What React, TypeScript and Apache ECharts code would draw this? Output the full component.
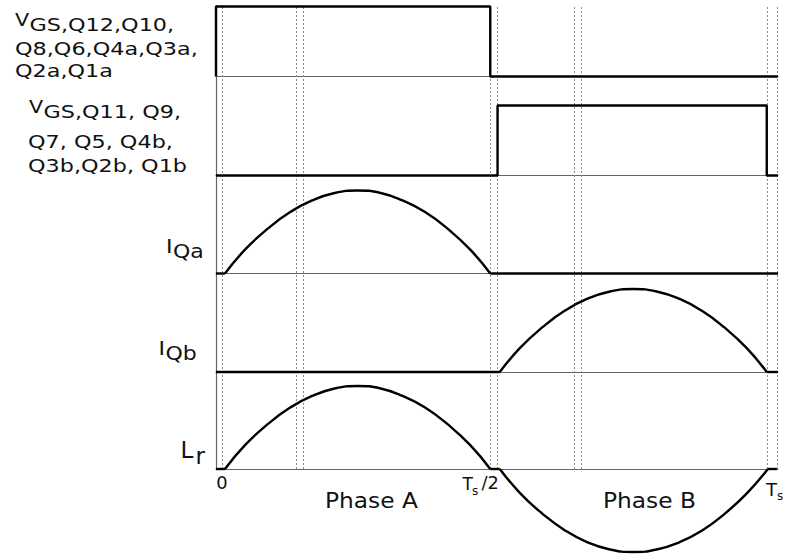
import React, { useEffect, useRef } from "react";
import * as echarts from "echarts";

// Time is expressed in percent of one switching period Ts (0 .. 100).
const switchingInstants = [1.2, 14.2, 15.5, 48.8, 50.1, 63.7, 65.0, 98.0, 99.8];

// Gate drive signals (0 = off, 1 = on)
const gateA = [[0, 0], [0, 1], [48.8, 1], [48.8, 0], [100, 0]];
const gateB = [[0, 0], [50.1, 0], [50.1, 1], [98.0, 1], [98.0, 0], [100, 0]];

// Switch current of phase A switches (normalised)
const iQaArcT = [1.6, 5.2, 9.2, 13.2, 17.1, 21.1, 25.2, 29.3, 33.2, 37.2, 41.2, 45.2, 48.8];
const iQaArcV = [0, 0.29, 0.54, 0.74, 0.88, 0.97, 1, 0.97, 0.88, 0.74, 0.54, 0.29, 0];
const iQaIdle = [
  [[0, 0], [1.6, 0]],
  [[48.8, 0], [100, 0]],
];

// Switch current of phase B switches (normalised)
const iQbArcT = [50.5, 54.1, 58.1, 62.1, 66.0, 70.1, 74.25, 78.4, 82.5, 86.4, 90.4, 94.4, 98.0];
const iQbArcV = [0, 0.29, 0.54, 0.74, 0.88, 0.97, 1, 0.97, 0.88, 0.74, 0.54, 0.29, 0];
const iQbIdle = [
  [[0, 0], [50.5, 0]],
  [[98.0, 0], [100, 0]],
];

// Resonant inductor current (normalised)
const lrPosT = [1.6, 5.2, 9.2, 13.2, 17.1, 21.1, 25.2, 29.3, 33.2, 37.2, 41.2, 45.2, 48.8];
const lrPosV = [0, 0.29, 0.54, 0.74, 0.88, 0.97, 1, 0.97, 0.88, 0.74, 0.54, 0.29, 0];
const lrNegT = [50.5, 54.1, 58.1, 62.1, 66.0, 70.1, 74.3, 78.4, 82.5, 86.5, 90.5, 94.5, 98.2];
const lrNegV = [0, -0.29, -0.54, -0.74, -0.88, -0.97, -1, -0.97, -0.88, -0.74, -0.54, -0.29, 0];
const lrIdle = [
  [[0, 0], [1.6, 0]],
  [[48.8, 0], [50.5, 0]],
  [[98.2, 0], [99.8, 0]],
];

const zip = (t: number[], v: number[]) => t.map((x, i) => [x, v[i]]);

const FONT = "DejaVu Sans";
const INK = "#111";

export default function App() {
  const ref = useRef<HTMLDivElement>(null);

  useEffect(() => {
    if (!ref.current) return;
    const chart = echarts.init(ref.current, null, { renderer: "svg" });

    const panelGrids = [
      { top: 6.5, height: 70 },
      { top: 105.5, height: 70 },
      { top: 190.5, height: 83 },
      { top: 289, height: 83 },
      { top: 386, height: 83 },
    ];
    const grids = [
      { left: 216, right: 12, top: 5.5, height: 463.5, outerBoundsMode: "none" },
      ...panelGrids.map((g) => ({ left: 216, right: 12, top: g.top, height: g.height, outerBoundsMode: "none" })),
    ];

    const xAxes = grids.map((_, i) => ({
      type: "value",
      gridIndex: i,
      min: 0,
      max: 100,
      axisLine: { show: i > 0, onZero: false, lineStyle: { color: "#666", width: 1.2 } },
      axisTick: { show: false },
      axisLabel: { show: false },
      splitLine: { show: false },
    }));
    const yAxes = grids.map((_, i) => ({
      type: "value",
      gridIndex: i,
      min: 0,
      max: 1,
      axisLine: { show: i === 0, lineStyle: { color: "#666", width: 1.2 } },
      axisTick: { show: false },
      axisLabel: { show: false },
      splitLine: { show: false },
    }));

    const trace = (grid: number, data: number[][], smooth = false) => ({
      type: "line",
      xAxisIndex: grid,
      yAxisIndex: grid,
      data,
      smooth,
      clip: false,
      silent: true,
      showSymbol: false,
      symbol: "none",
      lineStyle: { color: "#000", width: 2.4 },
      emphasis: { disabled: true },
      z: 5,
    });

    const series: any[] = [
      {
        type: "line",
        xAxisIndex: 0,
        yAxisIndex: 0,
        data: [[0, 0]],
        symbol: "none",
        silent: true,
        lineStyle: { opacity: 0 },
        markLine: {
          silent: true,
          symbol: ["none", "none"],
          label: { show: false },
          lineStyle: { color: "#8a8a8a", type: [2, 2], width: 1 },
          emphasis: { disabled: true },
          data: switchingInstants.map((v) => ({ xAxis: v })),
        },
      },
      trace(1, gateA),
      trace(2, gateB),
      ...iQaIdle.map((d) => trace(3, d)),
      trace(3, zip(iQaArcT, iQaArcV), true),
      ...iQbIdle.map((d) => trace(4, d)),
      trace(4, zip(iQbArcT, iQbArcV), true),
      ...lrIdle.map((d) => trace(5, d)),
      trace(5, zip(lrPosT, lrPosV), true),
      trace(5, zip(lrNegT, lrNegV), true),
    ];

    const txt = (
      text: string,
      x: number,
      y: number,
      size: number,
      scaleX = 1,
      align: "left" | "center" | "right" = "left"
    ) => ({
      type: "text",
      x,
      y,
      scaleX,
      silent: true,
      style: {
        text,
        fontSize: size,
        fontFamily: FONT,
        fill: INK,
        align,
        textAlign: align,
        verticalAlign: "middle",
        textVerticalAlign: "middle",
      },
    });

    const graphic = [
      // gate signal labels
      txt("V", 15, 20, 18, 1.15),
      txt("GS,Q12,Q10,", 29.5, 24.5, 18, 1.24),
      txt("Q8,Q6,Q4a,Q3a,", 15, 49, 18, 1.24),
      txt("Q2a,Q1a", 15, 71, 18, 1.24),
      txt("V", 29, 106.5, 18, 1.15),
      txt("GS,Q11, Q9,", 43.5, 112, 18, 1.24),
      txt("Q7, Q5, Q4b,", 28, 142, 18, 1.24),
      txt("Q3b,Q2b, Q1b", 28, 166, 18, 1.24),
      // current labels
      txt("I", 166, 245.5, 20, 1.1),
      txt("Qa", 173, 251, 20, 1.1),
      txt("I", 158.5, 348, 20, 1.1),
      txt("Qb", 165.5, 353, 20, 1.1),
      txt("L", 180.5, 449.5, 23, 1.0),
      txt("r", 195.5, 455.5, 23, 1.0),
      // time marks
      txt("0", 222, 483.5, 17, 1.05, "center"),
      txt("T", 462.5, 483.5, 17, 1.0),
      txt("s", 472, 490.5, 12, 1.0),
      txt("/2", 481.5, 483.5, 17, 1.05),
      txt("T", 766, 489.5, 18, 1.0),
      txt("s", 777, 496, 12, 1.0),
      // phase annotations
      txt("Phase A", 325, 500.5, 22, 1.06),
      txt("Phase B", 603, 500.5, 22, 1.06),
    ];

    chart.setOption({
      animation: false,
      backgroundColor: "#fff",
      grid: grids,
      xAxis: xAxes,
      yAxis: yAxes,
      series,
      graphic,
    });

    return () => chart.dispose();
  }, []);

  return (
    <div
      ref={ref}
      style={{ position: "absolute", left: 0, top: 0, width: 790, height: 554, background: "#fff" }}
    />
  );
}
